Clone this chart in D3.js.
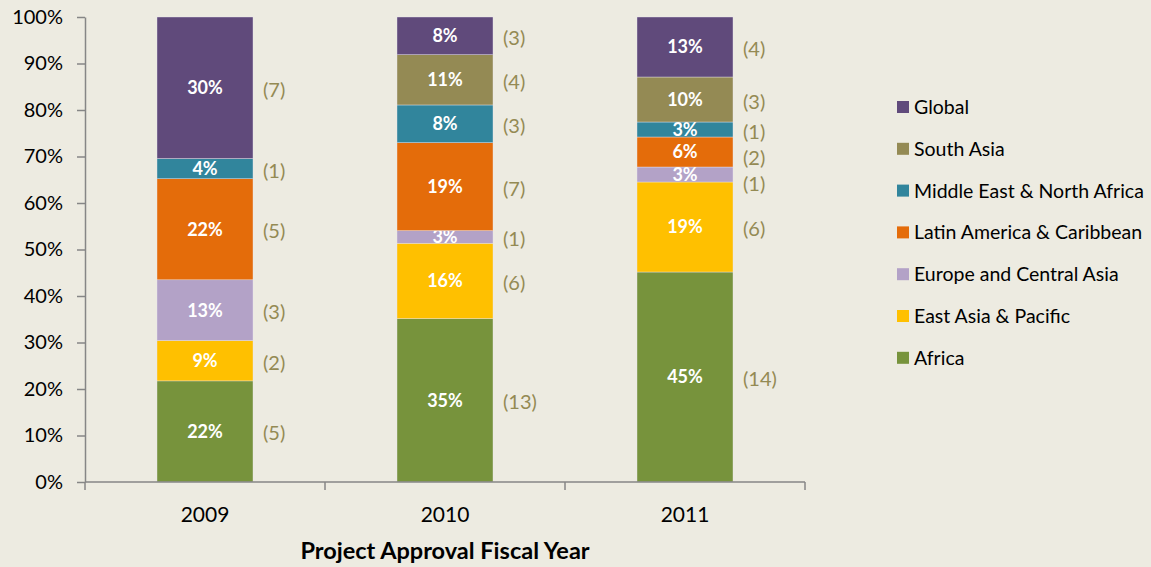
<!DOCTYPE html>
<html>
<head>
<meta charset="utf-8">
<script src="https://cdn.jsdelivr.net/npm/d3@7"></script>
<style>
  body { margin: 0; background: #edebe1; }
  text { font-family: Lato, "Open Sans", sans-serif; }
</style>
</head>
<body>
<script>
// chart size
const width = 1151;
const height = 567;

// data: project counts per region and year
const years = ["2009", "2010", "2011"];
const regions = ["Africa", "East Asia & Pacific", "Europe and Central Asia",
  "Latin America & Caribbean", "Middle East & North Africa", "South Asia", "Global"];
const colors = ["#77933c", "#ffc000", "#b3a2c7", "#e46c0a", "#31859c", "#948a54", "#604a7b"];
const counts2009 = [5, 2, 3, 5, 1, 0, 7];
const counts2010 = [13, 6, 1, 7, 3, 4, 3];
const counts2011 = [14, 6, 1, 2, 1, 3, 4];
const yTicks = [0, 0.1, 0.2, 0.3, 0.4, 0.5, 0.6, 0.7, 0.8, 0.9, 1];

const countsByYear = [counts2009, counts2010, counts2011];

const margin = { top: 17, left: 85, right: 346, bottom: 85 };

const svg = d3.select("body").append("svg")
  .attr("width", width)
  .attr("height", height);

svg.append("rect").attr("width", width).attr("height", height).attr("fill", "#edebe1");

const x = d3.scaleBand()
  .domain(years)
  .range([margin.left, width - margin.right])
  .paddingInner(0.6)
  .paddingOuter(0.3);

const y = d3.scaleLinear()
  .domain([0, 1])
  .range([height - margin.bottom, margin.top]);

// build rows for stacking
const rows = years.map((yr, i) => {
  const total = d3.sum(countsByYear[i]);
  const row = { year: yr, total: total };
  regions.forEach((r, j) => { row[r] = countsByYear[i][j] / total; });
  return row;
});

const series = d3.stack().keys(regions)(rows);

// bars
const layer = svg.append("g").selectAll("g")
  .data(series)
  .join("g")
  .attr("fill", (d, i) => colors[i]);

layer.selectAll("rect")
  .data(d => d)
  .join("rect")
  .attr("x", d => x(d.data.year))
  .attr("y", d => y(d[1]))
  .attr("width", x.bandwidth())
  .attr("height", d => y(d[0]) - y(d[1]))
  .attr("stroke", "#e8e4ee")
  .attr("stroke-width", 0.4);

// percent labels inside bars
layer.selectAll("text")
  .data(d => d.filter(s => s[1] - s[0] > 0))
  .join("text")
  .attr("x", d => x(d.data.year) + x.bandwidth() / 2)
  .attr("y", d => y((d[0] + d[1]) / 2))
  .attr("dy", "0.36em")
  .attr("text-anchor", "middle")
  .attr("fill", "#fff")
  .style("font-size", "18px")
  .style("font-weight", "bold")
  .text(d => Math.round((d[1] - d[0]) * 100) + "%");

// count labels to the right, pushed down when crowded
years.forEach((yr, i) => {
  let prev = -Infinity;
  const labels = [];
  for (let j = regions.length - 1; j >= 0; j--) {
    const s = series[j][i];
    if (s[1] - s[0] <= 0) continue;
    const ly = Math.max(y((s[0] + s[1]) / 2), prev + 26);
    prev = ly;
    labels.push({ y: ly, n: countsByYear[i][j] });
  }
  svg.append("g").selectAll("text")
    .data(labels)
    .join("text")
    .attr("x", x(yr) + x.bandwidth() + 10)
    .attr("y", d => d.y)
    .attr("dy", "0.45em")
    .attr("fill", "#948a54")
    .style("font-size", "20px")
    .text(d => "(" + d.n + ")");
});

// y axis
const yAxis = svg.append("g")
  .attr("transform", `translate(${margin.left},0)`)
  .call(d3.axisLeft(y).tickValues(yTicks).tickFormat(d3.format(".0%")).tickSize(8).tickSizeOuter(0).tickPadding(14));
yAxis.selectAll("text").style("font-size", "20px").attr("fill", "#000");
yAxis.selectAll("line, path").attr("stroke", "#868686").attr("stroke-width", 1.5);

// x axis with ticks at category boundaries
const xAxisG = svg.append("g")
  .attr("transform", `translate(0,${y(0)})`);
xAxisG.append("line")
  .attr("x1", margin.left).attr("x2", width - margin.right)
  .attr("stroke", "#868686").attr("stroke-width", 1.5);
const bounds = d3.range(years.length + 1).map(i => margin.left + i * (width - margin.left - margin.right) / years.length);
xAxisG.selectAll(".tk")
  .data(bounds)
  .join("line")
  .attr("x1", d => d).attr("x2", d => d)
  .attr("y1", 0).attr("y2", 8)
  .attr("stroke", "#868686").attr("stroke-width", 1.5);
xAxisG.selectAll(".lbl")
  .data(years)
  .join("text")
  .attr("x", d => x(d) + x.bandwidth() / 2)
  .attr("y", 40)
  .attr("text-anchor", "middle")
  .attr("fill", "#000")
  .style("font-size", "21px")
  .text(d => d);

// axis title
svg.append("text")
  .attr("x", (margin.left + width - margin.right) / 2)
  .attr("y", 559)
  .attr("text-anchor", "middle")
  .style("font-size", "23.5px")
  .style("font-weight", "bold")
  .text("Project Approval Fiscal Year");

// legend, Global at top
const legendItems = regions.map((r, i) => ({ name: r, color: colors[i] })).reverse();
const legend = svg.append("g").selectAll("g")
  .data(legendItems)
  .join("g")
  .attr("transform", (d, i) => `translate(897,${107 + i * 41.8})`);
legend.append("rect")
  .attr("y", -6).attr("width", 12).attr("height", 12)
  .attr("fill", d => d.color);
legend.append("text")
  .attr("x", 17)
  .attr("dy", "0.36em")
  .style("font-size", "19.5px")
  .attr("fill", "#000")
  .text(d => d.name);
</script>
</body>
</html>
